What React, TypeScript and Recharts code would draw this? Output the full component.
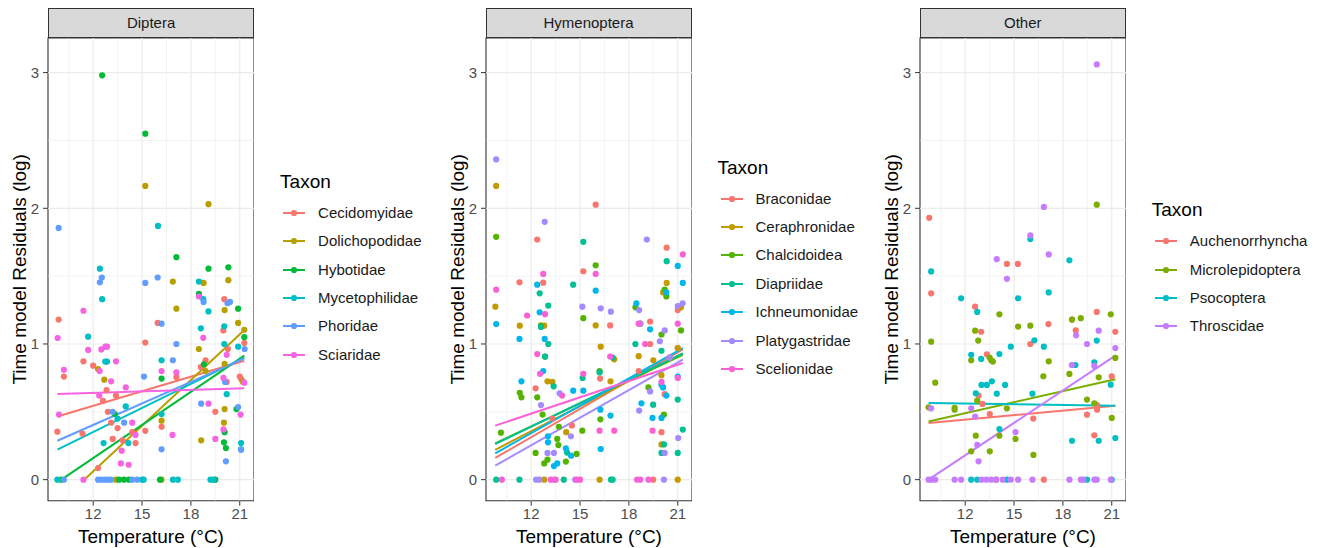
import React from "react";
import { ComposedChart, Scatter, Line, XAxis, YAxis, ReferenceLine, ReferenceArea } from "recharts";

const xTicks = [12, 15, 18, 21];
const yTicks = [0, 1, 2, 3];
const xMinor = [10.5, 13.5, 16.5, 19.5];
const yMinor = [0.5, 1.5, 2.5];
const xDomain = [9.225, 21.875];
const yDomain = [-0.155, 3.255];

// Diptera
const dipteraNames = ["Cecidomyidae", "Dolichopodidae", "Hybotidae", "Mycetophilidae", "Phoridae", "Sciaridae"];
const dipteraColors = ["#F8766D", "#B79F00", "#00BA38", "#00BFC4", "#619CFF", "#F564E3"];
const cecidomyidae = [[9.88, 1.18], [9.8, 0.354], [10.2, 0.76], [11.4, 0.872], [11.34, 0.34], [12.3, 0.086], [12.82, 0.66], [13.4, 0.62], [12.6, 0.58], [12.9, 0.5], [13.1, 0.42], [13.5, 0.38], [13.2, 0.3], [13.8, 0.29], [14.4, 0.35], [14.6, 0.27], [15.2, 1.01], [15.2, 0.36], [15.96, 1.155], [16.2, 0.39], [17.11, 0.755], [18.61, 0.83], [18.9, 0.88], [19.5, 0.5], [20.05, 1.33], [19.99, 1.1], [20.27, 0.963], [21.28, 1.007], [21.0, 0.76], [21.1, 0.74], [20.2, 0.72], [12.0, 0.84]];
const dolichopodidae = [[15.2, 2.165], [19.08, 2.03], [16.89, 1.46], [18.78, 1.45], [20.3, 1.47], [17.11, 1.26], [20.07, 1.25], [20.9, 1.155], [21.28, 1.105], [18.49, 0.963], [12.3, 0.815], [12.68, 0.737], [20.07, 0.853], [18.9, 0.8], [16.2, 0.435], [18.63, 0.29], [20.07, 0.52], [20.03, 0.42], [13.4, 0], [16.2, 0], [21.2, 0.72]];
const hybotidae = [[12.55, 2.98], [15.2, 2.55], [17.11, 1.64], [19.08, 1.555], [20.3, 1.565], [18.49, 1.37], [20.9, 1.26], [21.28, 1.05], [16.2, 0.745], [13.33, 0.484], [20.07, 0.35], [20.03, 0.275], [20.15, 0.233], [20.8, 0.52], [18.8, 0.85], [13.6, 0], [13.9, 0], [14.2, 0], [16.1, 0], [19.5, 0], [10.05, 0]];
const mycetophilidae = [[15.98, 1.87], [12.41, 1.555], [18.49, 1.46], [12.55, 1.33], [18.76, 1.33], [19.08, 1.24], [18.61, 1.115], [20.05, 1.13], [11.69, 1.054], [20.05, 1.0], [20.9, 0.98], [12.74, 0.87], [12.85, 0.87], [16.2, 0.88], [14.0, 0.54], [16.2, 0.484], [12.64, 0.27], [14.16, 0.27], [21.08, 0.27], [21.08, 0.224], [20.2, 0.63], [13.5, 0.45], [9.8, 0], [15.0, 0], [15.1, 0], [16.9, 0], [17.2, 0], [19.2, 0], [19.4, 0]];
const phoridae = [[9.88, 1.855], [12.53, 1.49], [12.41, 1.455], [15.96, 1.49], [15.2, 1.45], [18.78, 1.31], [20.25, 1.3], [20.4, 1.31], [16.2, 1.15], [17.11, 1.0], [21.3, 0.963], [16.89, 0.88], [15.12, 0.76], [18.63, 0.56], [20.9, 0.535], [16.2, 0.224], [21.08, 0.22], [20.15, 0.135], [20.1, 0.72], [13.2, 0.5], [13.9, 0.42], [10.2, 0], [12.3, 0], [12.5, 0], [12.7, 0], [12.9, 0], [13.1, 0], [14.4, 0], [14.7, 0]];
const sciaridae = [[11.4, 1.245], [9.82, 1.044], [11.69, 0.956], [12.5, 0.96], [12.75, 0.98], [12.85, 0.98], [13.4, 0.872], [18.76, 1.045], [18.49, 1.35], [10.2, 0.81], [12.4, 0.8], [13.1, 0.725], [16.2, 0.8], [17.11, 0.79], [21.28, 0.715], [14.0, 0.68], [12.37, 0.62], [19.08, 0.56], [21.05, 0.48], [9.9, 0.48], [16.87, 0.33], [19.5, 0.3], [13.75, 0.214], [13.7, 0.12], [14.18, 0.11], [20.0, 0.37], [20.0, 0.75], [20.2, 0.92], [11.4, 0], [14.4, 0.42], [14.6, 0.33]];
const cecidomyidaeFit = [[9.8, 0.465], [21.28, 0.876]];
const dolichopodidaeFit = [[11.45, 0], [21.3, 1.105]];
const hybotidaeFit = [[10.05, 0], [21.28, 0.914]];
const mycetophilidaeFit = [[9.8, 0.221], [21.28, 0.9]];
const phoridaeFit = [[9.8, 0.287], [21.28, 0.894]];
const sciaridaeFit = [[9.8, 0.631], [21.28, 0.673]];

// Hymenoptera
const hymenopteraNames = ["Braconidae", "Ceraphronidae", "Chalcidoidea", "Diapriidae", "Ichneumonidae", "Platygastridae", "Scelionidae"];
const hymenopteraColors = ["#F8766D", "#C49A00", "#53B400", "#00C094", "#00B6EB", "#A58AFF", "#FB61D7"];
const braconidae = [[15.96, 2.027], [12.37, 1.77], [20.32, 1.71], [15.2, 1.536], [11.28, 1.455], [12.74, 1.452], [16.85, 1.137], [19.3, 1.165], [16.23, 0.745], [12.27, 0.673], [20.0, 0.35], [14.5, 0.4], [18.6, 0.8], [19.3, 1.0], [20.5, 0.9], [21.0, 1.25], [21.0, 0.97], [19.49, 0], [20.2, 0.63], [13.3, 0.45]];
const ceraphronidae = [[9.85, 2.165], [9.8, 1.275], [11.3, 1.135], [12.6, 1.135], [12.8, 1.135], [15.96, 1.137], [16.27, 0.98], [17.1, 0.887], [13.0, 0.725], [16.87, 0.725], [20.32, 1.45], [20.1, 1.38], [21.2, 1.27], [14.15, 0.35], [20.0, 0.26], [21.0, 0], [12.8, 0], [16.2, 0], [18.6, 0.91], [19.5, 0.88], [20.0, 0.77], [21.0, 0.97], [13.3, 0.72]];
const chalcidoidea = [[9.85, 1.79], [15.96, 1.58], [15.2, 1.19], [12.6, 1.135], [11.3, 0.64], [11.4, 0.607], [12.37, 0.607], [16.25, 0.445], [15.14, 0.361], [10.14, 0.346], [12.7, 0.48], [13.7, 0.39], [12.27, 0.197], [13.67, 0.255], [13.0, 0.147], [12.8, 0.12], [14.13, 0.133], [14.79, 0.19], [18.4, 1.27], [18.7, 1.15], [20.0, 1.07], [20.2, 1.4], [20.3, 1.35], [21.2, 1.1], [20.15, 0.48], [19.2, 0.68], [16.2, 0.8], [12.85, 0.907], [13.6, 0.3]];
const diapriidae = [[15.2, 1.753], [20.32, 1.61], [14.58, 1.437], [12.52, 1.373], [13.05, 1.283], [12.6, 1.125], [13.05, 1.0], [12.85, 0.907], [15.16, 0.75], [16.2, 0.79], [13.38, 0.688], [17.0, 0.9], [18.4, 1.0], [20.0, 0.95], [19.49, 0.553], [20.15, 0.26], [20.0, 0.197], [21.0, 0.59], [21.31, 0.369], [21.0, 0.197], [14.2, 0.2], [9.85, 0], [11.28, 0], [16.9, 0], [17.0, 0], [14.0, 0]];
const ichneumonidae = [[21.0, 1.575], [12.37, 1.437], [15.96, 1.393], [21.31, 1.45], [12.52, 1.233], [9.85, 1.147], [19.3, 1.108], [11.28, 1.037], [12.83, 1.037], [18.46, 1.3], [12.74, 0.8], [11.4, 0.725], [14.58, 0.656], [15.2, 0.656], [18.77, 0.563], [19.45, 0.455], [20.0, 0.455], [16.25, 0.516], [16.87, 0.472], [16.27, 0.226], [13.03, 0.32], [13.03, 0.275], [13.6, 0.12], [13.4, 0.1], [14.45, 0.177], [14.13, 0.23], [21.0, 0.76], [20.0, 0.7], [20.1, 0.68], [20.3, 0.62], [20.3, 1.38]];
const platygastridae = [[9.85, 2.36], [12.83, 1.9], [19.1, 1.77], [15.14, 1.275], [16.27, 1.263], [16.89, 1.238], [18.63, 1.25], [18.7, 1.15], [19.9, 1.02], [20.2, 1.1], [21.0, 1.28], [21.3, 1.3], [13.75, 0.636], [18.63, 0.509], [12.6, 0.55], [14.44, 0.32], [13.0, 0.197], [13.4, 0.197], [20.2, 0.197], [21.03, 0.307], [19.3, 0.65], [20.5, 0.9], [12.3, 0], [12.5, 0], [13.4, 0], [14.7, 0], [20.15, 0]];
const scelionidae = [[21.31, 1.66], [9.85, 1.4], [15.96, 1.516], [12.74, 1.516], [12.85, 1.22], [11.75, 1.21], [12.37, 0.926], [16.85, 0.907], [12.54, 0.78], [15.2, 0.78], [13.9, 0.62], [16.2, 0.361], [17.1, 0.361], [19.45, 0.361], [18.6, 1.15], [19.0, 1.0], [20.0, 0.72], [21.0, 1.15], [21.0, 0.75], [10.2, 0], [13.2, 0], [13.5, 0], [14.8, 0], [15.0, 0], [18.5, 0], [18.7, 0], [19.2, 0]];
const braconidaeFit = [[9.79, 0.16], [21.31, 0.96]];
const ceraphronidaeFit = [[9.79, 0.22], [21.31, 0.93]];
const chalcidoideaFit = [[9.79, 0.268], [21.31, 0.92]];
const diapriidaeFit = [[9.79, 0.263], [21.31, 0.93]];
const ichneumonidaeFit = [[9.79, 0.194], [21.31, 0.97]];
const platygastridaeFit = [[9.79, 0.103], [21.31, 0.885]];
const scelionidaeFit = [[9.79, 0.398], [21.31, 0.86]];

// Other
const otherNames = ["Auchenorrhyncha", "Microlepidoptera", "Psocoptera", "Throscidae"];
const otherColors = ["#F8766D", "#7CAE00", "#00BFC4", "#C77CFF"];
const auchenorrhyncha = [[9.79, 1.93], [9.91, 1.373], [14.56, 1.59], [15.23, 1.59], [12.61, 1.275], [17.11, 1.147], [20.08, 1.236], [12.98, 1.09], [16.0, 1.0], [18.56, 1.18], [18.79, 1.1], [21.22, 1.09], [13.33, 0.924], [12.82, 0.62], [13.06, 0.558], [20.1, 0.55], [20.1, 0.516], [19.48, 0.479], [21.0, 0.762], [13.51, 0.484], [16.18, 0.45], [19.93, 0.327], [16.83, 0]];
const microlepidoptera = [[20.08, 2.027], [14.1, 1.219], [20.94, 1.219], [15.25, 1.128], [16.0, 1.135], [18.56, 1.18], [19.1, 1.19], [12.61, 1.098], [12.8, 1.025], [9.91, 1.017], [21.22, 0.897], [10.16, 0.715], [12.37, 0.88], [13.5, 0.9], [13.6, 0.88], [13.7, 0.87], [17.13, 0.872], [16.8, 0.762], [18.4, 0.779], [20.2, 0.754], [12.74, 0.582], [19.48, 0.59], [19.93, 0.563], [21.0, 0.455], [9.75, 0.533], [11.35, 0.53], [11.35, 0.516], [14.56, 0.526], [15.09, 0.3], [14.1, 0.324], [12.65, 0.324], [12.37, 0.209], [13.51, 0.209], [16.19, 0.182], [13.9, 0]];
const psocoptera = [[16.0, 1.773], [18.4, 1.617], [9.91, 1.535], [11.75, 1.337], [17.13, 1.38], [15.25, 1.337], [12.74, 1.236], [16.25, 1.027], [16.83, 0.98], [14.8, 0.98], [20.08, 1.025], [12.37, 0.92], [12.98, 0.89], [14.1, 0.926], [18.77, 0.845], [19.93, 0.865], [20.94, 0.7], [13.0, 0.698], [13.33, 0.698], [13.64, 0.725], [14.45, 0.698], [13.94, 0.634], [12.65, 0.636], [16.13, 0.634], [14.1, 0.373], [18.56, 0.287], [20.2, 0.287], [21.22, 0.307], [12.37, 0], [12.74, 0], [14.56, 0], [19.48, 0], [21.0, 0]];
const throscidae = [[20.08, 3.06], [16.83, 2.01], [16.0, 1.8], [17.13, 1.66], [13.94, 1.625], [14.56, 1.48], [18.81, 1.064], [20.2, 1.098], [19.48, 1.0], [21.22, 0.97], [18.55, 0.845], [19.93, 0.838], [9.91, 0.526], [12.37, 0.526], [12.61, 0.464], [15.09, 0.351], [12.74, 0.256], [12.82, 0.135], [9.75, 0], [9.91, 0], [10.16, 0], [11.35, 0], [11.75, 0], [13.0, 0], [13.3, 0], [13.6, 0], [13.9, 0], [14.3, 0], [14.8, 0], [15.25, 0], [16.13, 0], [18.4, 0], [19.1, 0], [19.25, 0], [19.93, 0], [20.08, 0], [20.94, 0]];
const auchenorrhynchaFit = [[9.75, 0.418], [21.22, 0.545]];
const microlepidopteraFit = [[9.75, 0.428], [21.22, 0.74]];
const psocopteraFit = [[9.75, 0.565], [21.22, 0.545]];
const throscidaeFit = [[9.75, 0], [21.22, 0.914]];

const PLOT_W = 206;
const AXIS_W = 48;

const toXY = (a: number[][]) => a.map(([x, y]) => ({ x, y }));

type Taxon = { name: string; color: string; pts: number[][]; fit: number[][] };

const Dot = (color: string) => (props: any) => (
  <circle cx={props.cx} cy={props.cy} r={3.1} fill={color} />
);

const Panel = ({ strip, taxa, left }: { strip: string; taxa: Taxon[]; left: number }) => {
  const right = left + PLOT_W;
  const n = taxa.length;
  const firstY = 283.8 - (n - 1) * 14.2;
  return (
    <>
      <div style={{ position: "absolute", left: left - AXIS_W, top: 0 }}>
        <ComposedChart width={AXIS_W + PLOT_W} height={548} margin={{ top: 38, right: 0, bottom: 0, left: 0 }}>
          <XAxis
            type="number"
            dataKey="x"
            domain={xDomain}
            ticks={xTicks}
            interval={0}
            allowDataOverflow
            height={47.3}
            axisLine={false}
            tickSize={5}
            tickMargin={3}
            tickLine={{ stroke: "#333333" }}
            tick={{ fill: "#4D4D4D", fontSize: 15 }}
            label={{ value: "Temperature (°C)", position: "insideBottom", offset: 5, fill: "#000000", fontSize: 19 }}
          />
          <YAxis
            type="number"
            dataKey="y"
            domain={yDomain}
            ticks={yTicks}
            interval={0}
            allowDataOverflow
            width={AXIS_W}
            axisLine={false}
            tickSize={5}
            tickMargin={4}
            tickLine={{ stroke: "#333333" }}
            tick={{ fill: "#4D4D4D", fontSize: 15 }}
            label={{ value: "Time model Residuals (log)", angle: -90, position: "insideLeft", offset: 19.5, fill: "#000000", fontSize: 19, style: { textAnchor: "middle" } }}
          />
          {xMinor.map((v) => <ReferenceLine key={"xm" + v} x={v} stroke="#EBEBEB" strokeWidth={0.6} />)}
          {yMinor.map((v) => <ReferenceLine key={"ym" + v} y={v} stroke="#EBEBEB" strokeWidth={0.6} />)}
          {xTicks.map((v) => <ReferenceLine key={"xM" + v} x={v} stroke="#EBEBEB" strokeWidth={1.2} />)}
          {yTicks.map((v) => <ReferenceLine key={"yM" + v} y={v} stroke="#EBEBEB" strokeWidth={1.2} />)}
          {taxa.map((t) => (
            <Scatter key={"p" + t.name} name={t.name} data={toXY(t.pts)} fill={t.color} shape={Dot(t.color)} isAnimationActive={false} />
          ))}
          {taxa.map((t) => (
            <Line key={"l" + t.name} data={toXY(t.fit)} dataKey="y" type="linear" stroke={t.color} strokeWidth={2} dot={false} activeDot={false} isAnimationActive={false} />
          ))}
          <ReferenceArea x1={xDomain[0]} x2={xDomain[1]} y1={yDomain[0]} y2={yDomain[1]} fill="none" fillOpacity={0} stroke="#333333" strokeWidth={1.1} />
        </ComposedChart>
      </div>
      <div
        style={{
          position: "absolute", left: left, top: 8, width: PLOT_W, height: 30, boxSizing: "border-box",
          background: "#D9D9D9", border: "1px solid #333333", color: "#1A1A1A", fontSize: 15,
          textAlign: "center", lineHeight: "28px",
        }}
      >
        {strip}
      </div>
      <div style={{ position: "absolute", left: right + 26, top: firstY - 31 - 11, fontSize: 19, lineHeight: "22px", color: "#000000" }}>
        Taxon
      </div>
      {taxa.map((t, i) => (
        <React.Fragment key={"lg" + t.name}>
          <svg style={{ position: "absolute", left: right + 29, top: firstY + i * 28.4 - 5 }} width={22} height={10}>
            <line x1={0} y1={5} x2={22} y2={5} stroke={t.color} strokeWidth={2} />
            <circle cx={11} cy={5} r={3.1} fill={t.color} />
          </svg>
          <div style={{ position: "absolute", left: right + 64, top: firstY + i * 28.4 - 9, fontSize: 15, lineHeight: "18px", color: "#1A1A1A", whiteSpace: "nowrap" }}>
            {t.name}
          </div>
        </React.Fragment>
      ))}
    </>
  );
};

const build = (names: string[], colors: string[], pts: number[][][], fits: number[][][]): Taxon[] =>
  names.map((name, i) => ({ name, color: colors[i], pts: pts[i], fit: fits[i] }));

export default function App() {
  const diptera = build(dipteraNames, dipteraColors,
    [cecidomyidae, dolichopodidae, hybotidae, mycetophilidae, phoridae, sciaridae],
    [cecidomyidaeFit, dolichopodidaeFit, hybotidaeFit, mycetophilidaeFit, phoridaeFit, sciaridaeFit]);
  const hymenoptera = build(hymenopteraNames, hymenopteraColors,
    [braconidae, ceraphronidae, chalcidoidea, diapriidae, ichneumonidae, platygastridae, scelionidae],
    [braconidaeFit, ceraphronidaeFit, chalcidoideaFit, diapriidaeFit, ichneumonidaeFit, platygastridaeFit, scelionidaeFit]);
  const other = build(otherNames, otherColors,
    [auchenorrhyncha, microlepidoptera, psocoptera, throscidae],
    [auchenorrhynchaFit, microlepidopteraFit, psocopteraFit, throscidaeFit]);

  return (
    <div
      style={{
        position: "absolute", left: 0, top: 0, width: 1323, height: 548, background: "#FFFFFF",
        fontFamily: '"Liberation Sans", Arial, sans-serif', overflow: "hidden",
      }}
    >
      <Panel strip="Diptera" taxa={diptera} left={48.1} />
      <Panel strip="Hymenoptera" taxa={hymenoptera} left={485.5} />
      <Panel strip="Other" taxa={other} left={919.8} />
    </div>
  );
}
